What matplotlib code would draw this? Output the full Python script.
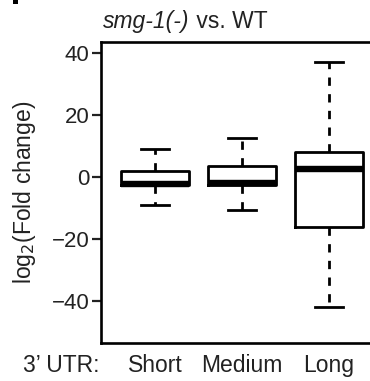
import matplotlib
matplotlib.use("Agg")
import matplotlib.pyplot as plt
from matplotlib.patches import Rectangle
from matplotlib.transforms import blended_transform_factory

plt.rcParams['font.family'] = ['Liberation Sans', 'DejaVu Sans']

categories = ["Short", "Medium", "Long"]
whislo = [-9.0, -10.6, -41.9]
q1 = [-2.6, -2.6, -16.1]
med = [-2.2, -2.0, 2.6]
q3 = [1.9, 3.7, 8.1]
whishi = [9.0, 12.6, 37.0]
yticks = [-40, -20, 0, 20, 40]

fig = plt.figure(figsize=(3.7, 3.81), dpi=100)
ax = fig.add_axes([101/370, 1-343/381, 1.0 - 101/370, (343-42)/381])

stats = []
for i, c in enumerate(categories):
    stats.append(dict(label=c, whislo=whislo[i], q1=q1[i], med=med[i],
                      q3=q3[i], whishi=whishi[i], fliers=[]))

lw = 2.0
ax.bxp(stats, positions=[1, 2, 3], widths=0.79, capwidths=0.32,
       showfliers=False, patch_artist=False,
       boxprops=dict(color='black', linewidth=lw),
       whiskerprops=dict(color='black', linewidth=lw, linestyle=(0, (3, 3))),
       capprops=dict(color='black', linewidth=lw),
       medianprops=dict(color='black', linewidth=4.6, solid_capstyle='butt'))

ax.set_xlim(1 - 54/87, 3 + 41/87)
ax.set_ylim(-53.5, 43.5)
ax.set_yticks(yticks)
ax.set_yticklabels([str(t).replace('-', '\u2212') for t in yticks])
ax.tick_params(axis='y', length=6.5, width=1.6, labelsize=16, pad=2, colors='#222222')
ax.tick_params(axis='x', length=0, labelsize=16.5, pad=8, colors='#222222')
ax.set_xticks([1, 2, 3])
ax.set_xticklabels(categories)
for s in ['left', 'top', 'bottom']:
    ax.spines[s].set_linewidth(1.9)
ax.spines['right'].set_visible(False)

ax.set_ylabel(r"log$_2$(Fold change)", fontsize=16.5, labelpad=10, color='#222222')

# "3' UTR:" placed on the same line as the tick labels (offset equal to tick pad)
ax.annotate("3\u2019 UTR:", xy=(-0.075, 0), xycoords=blended_transform_factory(ax.transData, ax.transAxes),
            xytext=(0, -8), textcoords='offset points', ha='center', va='top',
            fontsize=16.5, color='#222222', annotation_clip=False)

t1 = fig.text(103/370, 1 - 28/381, "smg-1(-)", fontsize=16.5, style='italic',
              ha='left', va='baseline', color='#222222')
ax.annotate(" vs. WT", xy=(1, 0), xycoords=t1, fontsize=16.5, ha='left', va='bottom',
            annotation_clip=False, color='#222222')

fig.patches.append(Rectangle((13/370, 1 - 4/381), 5/370, 4/381, transform=fig.transFigure,
                             facecolor='black', edgecolor='none'))

fig.savefig("out.png", dpi=100)
